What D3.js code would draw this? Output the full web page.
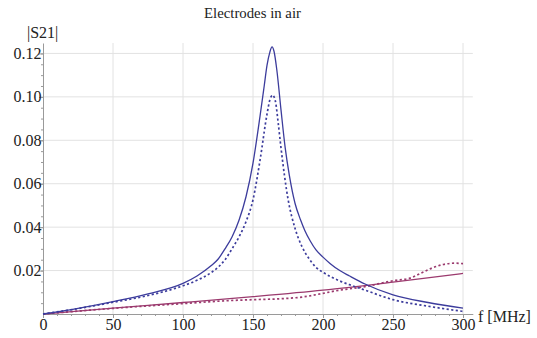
<!DOCTYPE html>
<html>
<head>
<meta charset="utf-8">
<script src="https://cdn.jsdelivr.net/npm/d3@7"></script>
<style>
  html, body { margin: 0; padding: 0; background: #fff; }
  svg { display: block; font-family: "Liberation Serif", "Times New Roman", Times, serif; }
  .grid line { stroke: #e2e2e2; stroke-width: 1; }
  .axis path, .axis line { stroke: #9a9a9a; }
  .axis text { fill: #222; font-size: 16px; font-family: "Liberation Serif", "Times New Roman", Times, serif; }
</style>
</head>
<body>
<div id="chart"></div>
<script>
// values
const xTicks = [0, 50, 100, 150, 200, 250, 300];
const yTicks = [0.02, 0.04, 0.06, 0.08, 0.10, 0.12];

// solid blue
const blueSolidF = [0, 25, 50, 75, 100, 110, 120, 125, 130, 135, 140, 145, 150, 155, 158, 160, 162, 163.6, 165, 167, 170, 173, 176, 180, 184, 187, 191, 195, 200, 205, 212, 219, 230, 250, 275, 300];
const blueSolidV = [0, 0.0026, 0.0057, 0.0093, 0.0141, 0.0175, 0.0222, 0.0252, 0.03, 0.0355, 0.0432, 0.054, 0.0695, 0.091, 0.105, 0.1145, 0.1205, 0.123, 0.121, 0.1125, 0.094, 0.0765, 0.0637, 0.051, 0.0433, 0.0385, 0.0335, 0.0295, 0.0262, 0.0233, 0.02, 0.0175, 0.0138, 0.0088, 0.0053, 0.0027];

// dotted blue
const blueDotF = [0, 25, 50, 75, 100, 110, 120, 125, 130, 135, 140, 145, 150, 155, 160, 162, 164, 166, 168, 170, 175, 180, 185, 190, 195, 200, 206, 212, 219, 230, 250, 275, 300];
const blueDotV = [0, 0.0025, 0.0054, 0.0085, 0.013, 0.0155, 0.019, 0.0215, 0.025, 0.03, 0.0355, 0.0425, 0.0526, 0.0707, 0.092, 0.0985, 0.1008, 0.098, 0.088, 0.0765, 0.053, 0.0395, 0.031, 0.0255, 0.0215, 0.0192, 0.017, 0.0152, 0.0135, 0.011, 0.0066, 0.0036, 0.0012];

// solid purple
const purpleSolidF = [0, 50, 100, 150, 200, 250, 300];
const purpleSolidV = [0, 0.0027, 0.0053, 0.008, 0.011, 0.0147, 0.0187];

// dotted purple
const purpleDotF = [0, 50, 100, 134, 150, 169, 185, 200, 212, 219, 230, 250, 262, 270, 278, 286, 294, 300];
const purpleDotV = [0, 0.0026, 0.0048, 0.0062, 0.0066, 0.007, 0.0078, 0.0095, 0.011, 0.0116, 0.0126, 0.0153, 0.0165, 0.0188, 0.0212, 0.0228, 0.0234, 0.0232];

const blue = '#3c3c9c';
const purple = '#9b3a6e';

const width = 537, height = 338;
const svg = d3.select('#chart').append('svg')
  .attr('width', width)
  .attr('height', height);

const x = d3.scaleLinear().domain([0, 307]).range([43, 472.8]);
const y = d3.scaleLinear().domain([0, 0.1248]).range([314, 43]);

// grid
const grid = svg.append('g').attr('class', 'grid');
grid.selectAll('.vg').data(xTicks.filter(d => d > 0)).join('line')
  .attr('x1', d => x(d)).attr('x2', d => x(d))
  .attr('y1', y(0)).attr('y2', y.range()[1]);
grid.selectAll('.hg').data(yTicks).join('line')
  .attr('x1', x(0)).attr('x2', x.range()[1])
  .attr('y1', d => y(d)).attr('y2', d => y(d));

// minor ticks
svg.append('g')
  .attr('class', 'axis')
  .attr('transform', `translate(0,${y(0)})`)
  .call(d3.axisBottom(x).tickValues(d3.range(0, 301, 10)).tickSize(2).tickFormat(''))
  .select('.domain').remove();
svg.append('g')
  .attr('class', 'axis')
  .attr('transform', `translate(${x(0)},0)`)
  .call(d3.axisLeft(y).tickValues(d3.range(0.005, 0.1249, 0.005)).tickSize(2).tickFormat(''))
  .select('.domain').remove();

// axes
svg.append('g')
  .attr('class', 'axis')
  .attr('transform', `translate(0,${y(0)})`)
  .call(d3.axisBottom(x).tickValues(xTicks).tickSize(4).tickSizeOuter(0).tickPadding(0.6).tickFormat(d3.format('d')));
svg.append('g')
  .attr('class', 'axis')
  .attr('transform', `translate(${x(0)},0)`)
  .call(d3.axisLeft(y).tickValues(yTicks).tickSize(4).tickSizeOuter(0).tickPadding(-2.6).tickFormat(d3.format('.2f')));

// curves
const line = d3.line()
  .x(d => x(d[0]))
  .y(d => y(d[1]))
  .curve(d3.curveMonotoneX);

const series = [
  { f: purpleSolidF, v: purpleSolidV, color: purple, dash: null },
  { f: purpleDotF, v: purpleDotV, color: purple, dash: '2.2,2.4' },
  { f: blueDotF, v: blueDotV, color: blue, dash: '2.2,2.4' },
  { f: blueSolidF, v: blueSolidV, color: blue, dash: null }
];

series.forEach(s => {
  svg.append('path')
    .datum(d3.zip(s.f, s.v))
    .attr('fill', 'none')
    .attr('stroke', s.color)
    .attr('stroke-width', s.dash ? 1.7 : 1.3)
    .attr('stroke-dasharray', s.dash)
    .attr('d', line);
});

// labels
svg.append('text')
  .attr('x', 204).attr('y', 18)
  .attr('font-size', 14.8)
  .attr('fill', '#222')
  .text('Electrodes in air');

svg.append('text')
  .attr('x', 27).attr('y', 38)
  .attr('font-size', 16)
  .attr('fill', '#222')
  .text('|S21|');

svg.append('text')
  .attr('x', 478).attr('y', 321.5)
  .attr('font-size', 16)
  .attr('fill', '#222')
  .text('f [MHz]');
</script>
</body>
</html>
